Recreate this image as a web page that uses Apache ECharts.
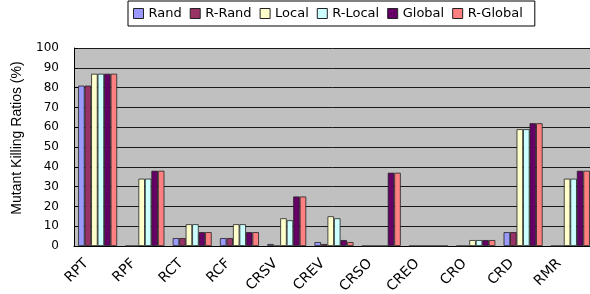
<!DOCTYPE html>
<html>
<head>
    <meta charset="utf-8">
    <title>Mutant Killing Ratios</title>
    <script src="https://cdn.jsdelivr.net/npm/echarts@6/dist/echarts.min.js"></script>
    <style>
        html, body { margin: 0; padding: 0; background: #fff; }
    </style>
</head>
<body>
<div id="main" style="width: 590px;height:294px;"></div>
<script>
    // 数据
    var categories = ['RPT', 'RPF', 'RCT', 'RCF', 'CRSV', 'CREV', 'CRSO', 'CREO', 'CRO', 'CRD', 'RMR'];
    var seriesNames = ['Rand', 'R-Rand', 'Local', 'R-Local', 'Global', 'R-Global'];
    var seriesColors = ['#9999FF', '#993366', '#FFFFCC', '#CCFFFF', '#660066', '#FF8080'];
    var rand    = [81, 0, 4, 4, 1, 2, 0, 0, 0, 7, 0];
    var rRand   = [81, 0, 4, 4, 0, 1, 0, 0, 0, 7, 0];
    var local   = [87, 34, 11, 11, 14, 15, 0, 0, 3, 59, 34];
    var rLocal  = [87, 34, 11, 11, 13, 14, 0, 0, 3, 59, 34];
    var global  = [87, 38, 7, 7, 25, 3, 37, 0, 3, 62, 38];
    var rGlobal = [87, 38, 7, 7, 25, 2, 37, 0, 3, 62, 38];
    var seriesData = [rand, rRand, local, rLocal, global, rGlobal];

    var myChart = echarts.init(document.getElementById('main'));

    var series = [];
    for (var i = 0; i < seriesNames.length; i++) {
        series.push({
            name: seriesNames[i],
            type: 'bar',
            barWidth: 6.5,
            barGap: '0%',
            data: seriesData[i],
            itemStyle: {
                color: seriesColors[i],
                borderColor: '#222',
                borderWidth: 0.8
            }
        });
    }

    myChart.setOption({
        animation: false,
        textStyle: { fontFamily: 'DejaVu Sans' },
        legend: {
            left: 128,
            top: 1,
            padding: [6, 12, 6, 5],
            itemWidth: 10,
            itemHeight: 10,
            itemGap: 8,
            borderColor: '#000',
            borderWidth: 1,
            backgroundColor: '#fff',
            textStyle: { fontSize: 13, color: '#000', fontFamily: 'DejaVu Sans' },
            data: seriesNames.map(function (n, i) {
                return { name: n, icon: 'rect', itemStyle: { borderColor: '#222', borderWidth: 1 } };
            })
        },
        grid: {
            left: 74,
            right: -4,
            top: 48,
            bottom: 48,
            containLabel: false,
            outerBoundsMode: 'none',
            show: true,
            backgroundColor: '#C0C0C0',
            borderWidth: 0
        },
        xAxis: {
            type: 'category',
            data: categories,
            axisLine: { lineStyle: { color: '#000', width: 1 } },
            axisTick: { inside: true, length: 4, lineStyle: { color: '#000' } },
            axisLabel: {
                rotate: 45, interval: 0, fontSize: 14, color: '#000',
                margin: 4, align: 'right', padding: [0, 16, 0, 0]
            }
        },
        yAxis: {
            type: 'value',
            min: 0,
            max: 100,
            interval: 10,
            name: 'Mutant Killing Ratios (%)',
            nameLocation: 'middle',
            nameGap: 50,
            nameTextStyle: {
                fontSize: 14, color: '#000', fontFamily: 'Liberation Sans',
                padding: [0, 0, 0, 18]
            },
            axisLine: { show: true, lineStyle: { color: '#000', width: 1 } },
            axisTick: { show: true, inside: true, length: 4, lineStyle: { color: '#000' } },
            axisLabel: { fontSize: 12, color: '#000', margin: 15 },
            splitLine: { lineStyle: { color: '#1a1a1a', width: 1 } }
        },
        series: series
    });
</script>
</body>
</html>
